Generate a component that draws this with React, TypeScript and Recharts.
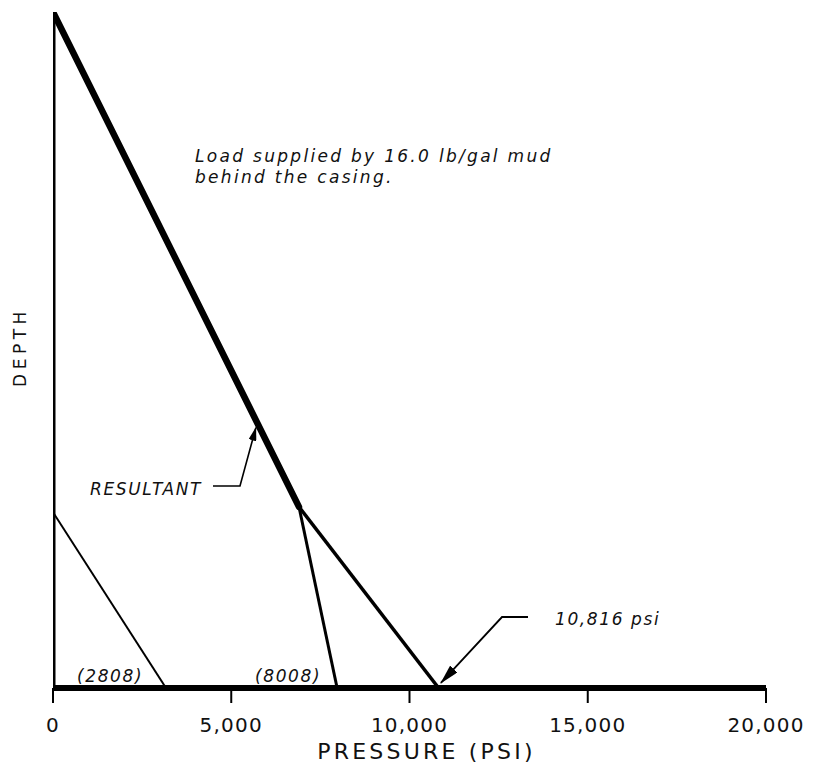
import React from 'react';
import { ComposedChart, Line, XAxis, YAxis, ReferenceDot } from 'recharts';

// Pressure (psi) vs depth (relative units, 0 = surface, 10000 = bottom)
const xTicks = [0, 5000, 10000, 15000, 20000];
const xTickLabels = ['0', '5,000', '10,000', '15,000', '20,000'];

const depthAxis = [{ x: 0, y: 0 }, { x: 0, y: 10000 }];
const resultantUpper = [{ x: 0, y: 0 }, { x: 6900, y: 7320 }];
const resultantLower = [{ x: 6900, y: 7320 }, { x: 10816, y: 10000 }];
const load8008 = [{ x: 6900, y: 7320 }, { x: 7970, y: 10000 }];
const load2808 = [{ x: 0, y: 7400 }, { x: 3170, y: 10000 }];
const resultantLeader = [{ x: 4488, y: 7012 }, { x: 5245, y: 7012 }, { x: 5690, y: 6150 }];
const psiLeader = [{ x: 13324, y: 8950 }, { x: 12595, y: 8950 }, { x: 10880, y: 9925 }];

const noteLines = ['Load supplied by 16.0 lb/gal mud', 'behind the casing.'];
const annotations = [
  { x: 1038, y: 7145, text: 'RESULTANT' },
  { x: 14081, y: 9068, text: '10,816 psi' },
  { x: 673, y: 9911, text: '(2808)' },
  { x: 5666, y: 9911, text: '(8008)' },
];
const noteAnchor = { x: 3983, y: 2219 };
const depthTitleAnchor = { x: -912, y: 4956 };
const pressureTitleAnchor = { x: 10477, y: 11050 };

const FONT = '"DejaVu Sans", sans-serif';

const Tick = (props: any) => {
  const { x, y, payload, index } = props;
  const label = xTickLabels[index] ?? String(payload.value);
  return (
    <text x={x} y={y + 27} textAnchor="middle" fontFamily={FONT} fontSize={20} letterSpacing={1.2} fill="#111">
      {label}
    </text>
  );
};

export default function App() {
  return (
    <div>
      <svg width={0} height={0} style={{ position: 'absolute' }}>
        <defs>
          <marker id="arrowSmall" markerWidth={14} markerHeight={8} refX={13} refY={4} orient="auto" markerUnits="userSpaceOnUse">
            <path d="M0,0 L14,4 L0,8 z" fill="#000" />
          </marker>
          <marker id="arrowBig" markerWidth={20} markerHeight={10} refX={19} refY={5} orient="auto" markerUnits="userSpaceOnUse">
            <path d="M0,0 L20,5 L0,10 z" fill="#000" />
          </marker>
        </defs>
      </svg>
      <ComposedChart width={818} height={768} margin={{ top: 4, right: 60, bottom: 0, left: 45 }}>
        <XAxis
          type="number"
          dataKey="x"
          domain={[0, 20000]}
          ticks={xTicks}
          allowDataOverflow
          height={88}
          stroke="#000"
          axisLine={{ stroke: '#000', strokeWidth: 6 }}
          tickLine={{ stroke: '#000', strokeWidth: 2 }}
          tickSize={15}
          tick={<Tick />}
          interval={0}
        />
        <YAxis type="number" dataKey="y" domain={[0, 10000]} reversed hide allowDataOverflow />

        <Line data={depthAxis} dataKey="y" stroke="#000" strokeWidth={5} strokeLinecap="square" dot={false} isAnimationActive={false} />
        <Line data={load2808} dataKey="y" stroke="#000" strokeWidth={2} dot={false} isAnimationActive={false} />
        <Line data={load8008} dataKey="y" stroke="#000" strokeWidth={3} dot={false} isAnimationActive={false} />
        <Line data={resultantLower} dataKey="y" stroke="#000" strokeWidth={3.5} dot={false} isAnimationActive={false} />
        <Line data={resultantUpper} dataKey="y" stroke="#000" strokeWidth={6.5} strokeLinecap="round" dot={false} isAnimationActive={false} />
        <Line data={resultantLeader} dataKey="y" stroke="#000" strokeWidth={1.6} fill="none" dot={false} markerEnd="url(#arrowSmall)" isAnimationActive={false} />
        <Line data={psiLeader} dataKey="y" stroke="#000" strokeWidth={1.8} fill="none" dot={false} markerEnd="url(#arrowBig)" isAnimationActive={false} />

        <ReferenceDot
          x={noteAnchor.x}
          y={noteAnchor.y}
          r={0}
          ifOverflow="visible"
          shape={(p: any) => (
            <g>
              {noteLines.map((t, i) => (
                <text key={i} x={p.cx} y={p.cy + i * 21} fontFamily={FONT} fontStyle="italic" fontSize={17} letterSpacing={2.3} fill="#111">
                  {t}
                </text>
              ))}
            </g>
          )}
        />
        {annotations.map((a, i) => (
          <ReferenceDot
            key={i}
            x={a.x}
            y={a.y}
            r={0}
            ifOverflow="visible"
            shape={(p: any) => (
              <text x={p.cx} y={p.cy} fontFamily={FONT} fontStyle="italic" fontSize={17} letterSpacing={1.6} fill="#111">
                {a.text}
              </text>
            )}
          />
        ))}
        <ReferenceDot
          x={depthTitleAnchor.x}
          y={depthTitleAnchor.y}
          r={0}
          ifOverflow="visible"
          shape={(p: any) => (
            <text
              x={p.cx}
              y={p.cy}
              transform={`rotate(-90 ${p.cx} ${p.cy})`}
              textAnchor="middle"
              dominantBaseline="central"
              fontFamily={FONT}
              fontSize={17}
              letterSpacing={4.5}
              fill="#111"
            >
              DEPTH
            </text>
          )}
        />
        <ReferenceDot
          x={pressureTitleAnchor.x}
          y={pressureTitleAnchor.y}
          r={0}
          ifOverflow="visible"
          shape={(p: any) => (
            <text x={p.cx} y={p.cy} textAnchor="middle" fontFamily={FONT} fontSize={22} letterSpacing={3.2} fill="#111">
              PRESSURE (PSI)
            </text>
          )}
        />
      </ComposedChart>
    </div>
  );
}
